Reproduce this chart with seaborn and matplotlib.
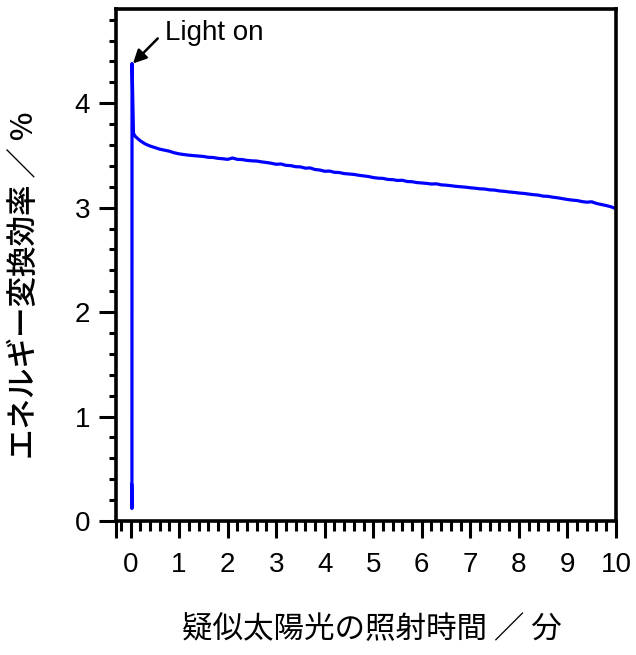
import matplotlib
matplotlib.use("Agg")
import matplotlib.pyplot as plt
from matplotlib.ticker import MultipleLocator
import pandas as pd
import seaborn as sns

# 疑似太陽光の照射時間 (分)
tiempo = [0.025, 0.028, 0.03, 0.06, 0.1, 0.2, 0.3, 0.4, 0.5, 0.6, 0.7, 0.8, 0.9,
          1.0, 1.1, 1.2, 1.3, 1.4, 1.5, 1.6, 1.7, 1.8, 1.9,
          2.0, 2.1, 2.2, 2.3, 2.4, 2.5, 2.6, 2.7, 2.8, 2.9,
          3.0, 3.1, 3.2, 3.3, 3.4, 3.5, 3.6, 3.7, 3.8, 3.9,
          4.0, 4.1, 4.2, 4.3, 4.4, 4.5, 4.6, 4.7, 4.8, 4.9,
          5.0, 5.1, 5.2, 5.3, 5.4, 5.5, 5.6, 5.7, 5.8, 5.9,
          6.0, 6.1, 6.2, 6.3, 6.4, 6.5, 6.6, 6.7, 6.8, 6.9,
          7.0, 7.1, 7.2, 7.3, 7.4, 7.5, 7.6, 7.7, 7.8, 7.9,
          8.0, 8.1, 8.2, 8.3, 8.4, 8.5, 8.6, 8.7, 8.8, 8.9,
          9.0, 9.1, 9.2, 9.3, 9.4, 9.5, 9.6, 9.7, 9.8, 9.9, 10.0]
# エネルギー変換効率 (%)
eficiencia = [0.35, 0.12, 4.38, 3.71, 3.68, 3.64, 3.61, 3.59, 3.575, 3.56, 3.55, 3.54, 3.525,
              3.515, 3.508, 3.502, 3.498, 3.494, 3.49, 3.482, 3.48, 3.472, 3.468,
              3.462, 3.475, 3.462, 3.46, 3.452, 3.448, 3.446, 3.438, 3.432, 3.425,
              3.415, 3.418, 3.405, 3.402, 3.392, 3.39, 3.378, 3.38, 3.365, 3.36,
              3.348, 3.35, 3.338, 3.336, 3.326, 3.322, 3.318, 3.31, 3.304, 3.298,
              3.288, 3.282, 3.28, 3.27, 3.268, 3.26, 3.262, 3.25, 3.248, 3.24,
              3.236, 3.232, 3.226, 3.228, 3.218, 3.215, 3.21, 3.204, 3.2, 3.196,
              3.19, 3.186, 3.18, 3.178, 3.17, 3.168, 3.16, 3.156, 3.15, 3.146,
              3.14, 3.136, 3.13, 3.124, 3.12, 3.11, 3.108, 3.1, 3.094, 3.086,
              3.078, 3.072, 3.068, 3.058, 3.052, 3.056, 3.04, 3.03, 3.02, 3.008, 2.99]

xticks = list(range(0, 11))
yticks = [0, 1, 2, 3, 4]

df = pd.DataFrame({"t": tiempo, "eff": eficiencia})

sns.set_style("ticks")
plt.rcParams['font.family'] = ['Liberation Sans', 'Noto Sans CJK JP']
plt.rcParams['text.color'] = 'black'
plt.rcParams['axes.labelcolor'] = 'black'
plt.rcParams['xtick.color'] = 'black'
plt.rcParams['ytick.color'] = 'black'

fig = plt.figure(figsize=(6.36, 6.55), dpi=100)
ax = fig.add_axes([0.1824, 0.2046, 0.786, 0.7814])

sns.lineplot(data=df, x="t", y="eff", ax=ax, color="#0000ff",
             linewidth=2.3, sort=False, estimator=None)

ax.set_xlim(-0.3, 10)
ax.set_ylim(0, 4.9)
# tick extra en el borde izquierdo, sin etiqueta
ax.set_xticks([-0.3] + xticks, labels=[""] + [str(v) for v in xticks])
ax.set_yticks(yticks)
ax.xaxis.set_minor_locator(MultipleLocator(0.2))
ax.yaxis.set_minor_locator(MultipleLocator(0.2))

for s in ax.spines.values():
    s.set_linewidth(2.6)
    s.set_color("black")

ax.tick_params(axis="both", which="major", length=12.5, width=2.2, labelsize=20, pad=6)
ax.tick_params(axis="x", which="minor", length=7, width=2.2)
ax.tick_params(axis="y", which="minor", length=5, width=2.2)
ax.tick_params(axis="x", which="major", pad=10)

ax.set_xlabel("疑似太陽光の照射時間 ／ 分", fontsize=22,
              family=['Noto Sans CJK JP'])
ax.set_ylabel("エネルギー変換効率 ／ %", fontsize=22, fontweight="medium",
              family=['Noto Sans CJK JP'])
ax.xaxis.set_label_coords(0.512, -0.182)
ax.yaxis.set_label_coords(-0.152, 0.46)

ax.annotate("", xy=(0.05, 4.38), xytext=(0.56, 4.62),
            arrowprops=dict(arrowstyle="-|>", color="black", lw=1.8,
                            mutation_scale=20, shrinkA=0, shrinkB=0))
ax.text(0.71, 4.67, "Light on", fontsize=20, ha="left", va="center")

fig.savefig("out.png", dpi=100)
